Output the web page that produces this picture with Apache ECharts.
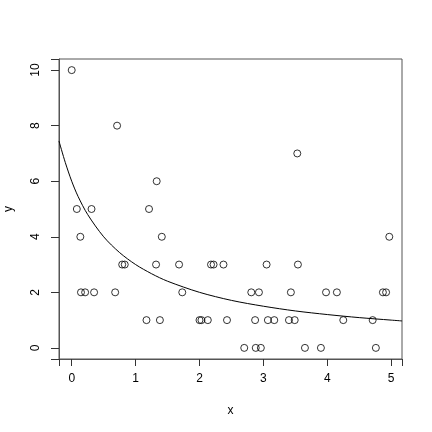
<!DOCTYPE html>
<html>
<head>
<meta charset="utf-8">
<script src="https://cdn.jsdelivr.net/npm/echarts@6/dist/echarts.min.js"></script>
<style>html,body{margin:0;padding:0;background:#fff;}#c{width:432px;height:432px;}</style>
</head>
<body>
<div id="c"></div>
<script>
// scatter points (x, y)
const pointX = [0, 0.71, 3.53, 1.33,
  0.08, 0.31, 1.21,
  0.135, 1.41, 4.97,
  0.79, 0.83, 1.32, 1.68, 2.18, 2.22, 2.375, 3.05, 3.54,
  0.145, 0.21, 0.35, 0.68, 1.73, 2.81, 2.93, 3.43, 3.98, 4.15, 4.87, 4.92,
  1.17, 1.38, 2.0, 2.03, 2.13, 2.43, 2.87, 3.07, 3.17, 3.40, 3.49, 4.25, 4.71,
  2.70, 2.88, 2.96, 3.65, 3.90, 4.76];
const pointY = [10, 8, 7, 6,
  5, 5, 5,
  4, 4, 4,
  3, 3, 3, 3, 3, 3, 3, 3, 3,
  2, 2, 2, 2, 2, 2, 2, 2, 2, 2, 2, 2,
  1, 1, 1, 1, 1, 1, 1, 1, 1, 1, 1, 1, 1,
  0, 0, 0, 0, 0, 0];
// fitted curve
const curveX = [-0.2, -0.1, 0, 0.1, 0.25, 0.5, 0.75, 1, 1.25, 1.5, 2, 2.5, 3, 3.5, 4, 4.5, 5, 5.17];
const curveY = [7.45, 6.67, 6.0, 5.45, 4.8, 4.0, 3.43, 3.0, 2.67, 2.4, 2.0, 1.71, 1.5, 1.33, 1.2, 1.09, 1.0, 0.97];
const xTicks = [0, 1, 2, 3, 4, 5];
const yTicks = [0, 2, 4, 6, 8, 10];

const chart = echarts.init(document.getElementById('c'), null, {renderer: 'canvas'});
const font = 'Liberation Sans, Arial, sans-serif';
chart.setOption({
  animation: false,
  backgroundColor: '#fff',
  grid: {left: 59, top: 59, right: 30, bottom: 73, containLabel: false, outerBoundsMode: 'none',
    show: true, borderColor: '#555', borderWidth: 1, backgroundColor: 'transparent'},
  xAxis: {
    type: 'value', min: -0.199, max: 5.169,
    name: 'x', nameLocation: 'middle', nameGap: 46,
    nameTextStyle: {fontFamily: font, fontSize: 12, color: '#000'},
    axisLine: {show: true, onZero: false, lineStyle: {color: '#555', width: 1}},
    splitLine: {show: false},
    axisTick: {show: true, inside: false, length: 7, lineStyle: {color: '#333', width: 1}},
    axisLabel: {customValues: xTicks, margin: 14, fontFamily: font, fontSize: 12, color: '#000'}
  },
  yAxis: {
    type: 'value', min: -0.4, max: 10.4,
    name: 'y', nameLocation: 'middle', nameGap: 44, nameRotate: 90,
    nameTextStyle: {fontFamily: font, fontSize: 12, color: '#000'},
    axisLine: {show: true, onZero: false, lineStyle: {color: '#555', width: 1}},
    splitLine: {show: false},
    axisTick: {show: true, inside: false, length: 8, lineStyle: {color: '#333', width: 1}},
    axisLabel: {customValues: yTicks, rotate: 90, margin: 17, fontFamily: font, fontSize: 12, color: '#000'}
  },
  series: [
    {
      type: 'scatter',
      data: pointX.map((x, i) => [x, pointY[i]]),
      symbol: 'circle', symbolSize: 7,
      itemStyle: {color: 'transparent', borderColor: '#000', borderWidth: 1}
    },
    {
      type: 'line',
      data: curveX.map((x, i) => [x, curveY[i]]),
      smooth: 0.3, showSymbol: false, clip: true,
      lineStyle: {color: '#000', width: 1}
    }
  ]
});
</script>
</body>
</html>
